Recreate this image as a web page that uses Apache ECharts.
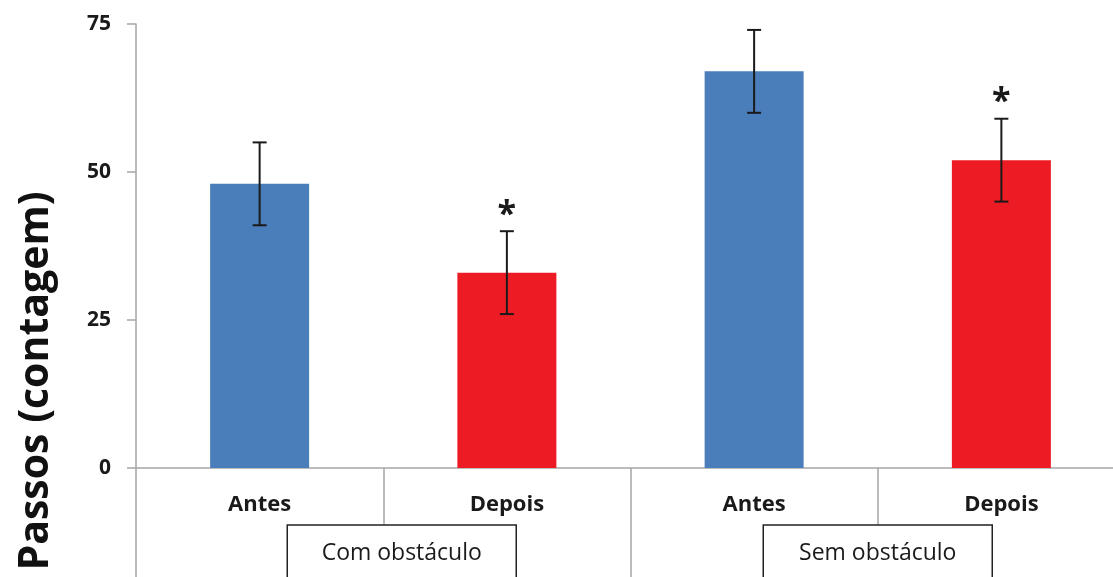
<!DOCTYPE html>
<html>
<head>
<meta charset="utf-8">
<script src="https://cdn.jsdelivr.net/npm/echarts@6/dist/echarts.min.js"></script>
<style>
  html, body { margin: 0; padding: 0; background: #fff; }
  #chart { width: 1113px; height: 577px; }
</style>
</head>
<body>
<div id="chart"></div>
<script>
// Step counts before/after, with and without obstacle
const phases = ['Antes', 'Depois', 'Antes', 'Depois'];
const groups = ['Com obstáculo', 'Sem obstáculo'];
const steps = [48, 33, 67, 52];
const errLow = [41, 26, 60, 45];
const errHigh = [55, 40, 74, 59];
const significance = ['', '*', '', '*'];
const yTicks = [0, 25, 50, 75];
const yTitle = 'Passos (contagem)';

const FONT = '"Open Sans", "Liberation Sans", sans-serif';
const AXIS_GRAY = '#a6a6a6';
const phaseColors = { 'Antes': '#4a7ebb', 'Depois': '#ed1c24' };

const chart = echarts.init(document.getElementById('chart'), null, { renderer: 'canvas' });

chart.setOption({
  animation: false,
  backgroundColor: '#ffffff',
  grid: {
    left: 136, right: -12, top: 24, bottom: 109,
    containLabel: false, outerBoundsMode: 'none'
  },
  xAxis: [
    {
      type: 'category',
      data: phases,
      position: 'bottom',
      axisLine: { show: true, lineStyle: { color: AXIS_GRAY, width: 1.5 } },
      axisTick: { show: true, length: 57, lineStyle: { color: AXIS_GRAY, width: 1.5 } },
      axisLabel: {
        interval: 0, margin: 26,
        fontFamily: FONT, fontWeight: 'bold', fontSize: 22, color: '#1a1a1a'
      }
    },
    {
      type: 'category',
      data: groups,
      position: 'bottom',
      axisLine: { show: false },
      axisTick: { show: true, length: 109, lineStyle: { color: AXIS_GRAY, width: 1.5 } },
      axisLabel: {
        interval: 0, margin: 57,
        formatter: (v, i) => (i === 0 ? '{pad|}{box|' + v + '}' : '{box|' + v + '}'),
        rich: {
          pad: { width: 37 },
          box: {
            width: 229, height: 56, lineHeight: 56, align: 'center',
            borderColor: '#222', borderWidth: 1.5,
            fontFamily: FONT, fontSize: 23, color: '#1a1a1a'
          }
        }
      }
    }
  ],
  yAxis: {
    type: 'value',
    min: yTicks[0], max: yTicks[yTicks.length - 1], interval: 25,
    axisLine: { show: true, lineStyle: { color: AXIS_GRAY, width: 1.5 } },
    axisTick: { show: true, length: 9, lineStyle: { color: AXIS_GRAY, width: 1.5 } },
    splitLine: { show: false },
    axisLabel: { margin: 25, fontFamily: FONT, fontWeight: 'bold', fontSize: 21, color: '#1a1a1a' }
  },
  graphic: [{
    type: 'text',
    x: 36, y: 381,
    rotation: Math.PI / 2,
    style: {
      text: yTitle,
      fontFamily: FONT, fontWeight: 'bold', fontSize: 41, fill: '#111',
      align: 'center', verticalAlign: 'middle'
    }
  }],
  series: [
    {
      type: 'bar',
      xAxisIndex: 0,
      data: steps,
      barWidth: 99,
      itemStyle: { color: (p) => phaseColors[phases[p.dataIndex]] }
    },
    {
      // error bars with caps, plus significance marks
      type: 'custom',
      xAxisIndex: 0,
      data: steps.map((v, i) => [i, errLow[i], errHigh[i]]),
      z: 10,
      renderItem: (params, api) => {
        const i = api.value(0);
        const lo = api.coord([i, api.value(1)]);
        const hi = api.coord([i, api.value(2)]);
        const cap = 7;
        const style = { stroke: '#1a1a1a', lineWidth: 2 };
        const children = [
          { type: 'line', shape: { x1: hi[0], y1: hi[1], x2: lo[0], y2: lo[1] }, style },
          { type: 'line', shape: { x1: hi[0] - cap, y1: hi[1], x2: hi[0] + cap, y2: hi[1] }, style },
          { type: 'line', shape: { x1: lo[0] - cap, y1: lo[1], x2: lo[0] + cap, y2: lo[1] }, style }
        ];
        const mark = significance[i];
        if (mark) {
          children.push({
            type: 'text',
            x: hi[0], y: hi[1] - 16,
            style: {
              text: mark, fontFamily: FONT, fontWeight: 'bold', fontSize: 34,
              fill: '#1a1a1a', align: 'center', verticalAlign: 'middle'
            }
          });
        }
        return { type: 'group', children };
      }
    }
  ]
});
</script>
</body>
</html>
